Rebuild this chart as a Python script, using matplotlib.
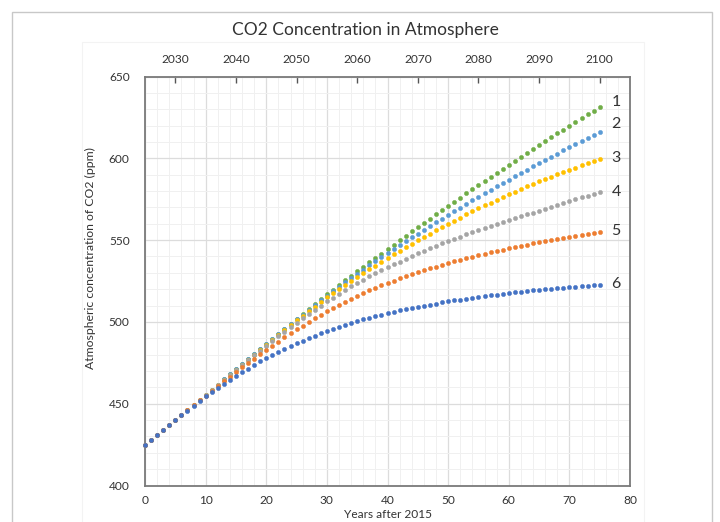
import matplotlib
matplotlib.use("Agg")
import matplotlib.pyplot as plt
from matplotlib.patches import Rectangle
from matplotlib.ticker import MultipleLocator

plt.rcParams['font.family'] = ['Lato', 'DejaVu Sans']

years_after = list(range(0, 76))

s1 = [425, 428, 431, 434, 437, 440,
      443.1, 446.2, 449.3, 452.4, 455.5, 458.6, 461.7, 464.8, 467.9, 471.0,
      474.1, 477.2, 480.3, 483.4, 486.5, 489.6, 492.7, 495.8, 498.9, 502.0,
      505.0, 508.0, 511.0, 514.0, 517.0, 519.8, 522.6, 525.4, 528.2, 531.0,
      533.7, 536.4, 539.1, 541.8, 544.5, 547.2, 549.9, 552.6, 555.3, 558.0,
      560.6, 563.2, 565.8, 568.4, 571.0, 573.5, 576.0, 578.5, 581.0, 583.5,
      586.0, 588.5, 591.0, 593.5, 596.0, 598.4, 600.8, 603.2, 605.6, 608.0,
      610.4, 612.8, 615.2, 617.6, 620.0, 622.3, 624.6, 626.9, 629.2, 631.5]

s2 = [425, 428, 431, 434, 437, 440,
      443.1, 446.2, 449.3, 452.4, 455.5, 458.6, 461.7, 464.8, 467.9, 471.0,
      474.1, 477.1, 480.2, 483.2, 486.3, 489.3, 492.4, 495.4, 498.5, 501.5,
      504.4, 507.3, 510.2, 513.1, 516.0, 518.7, 521.4, 524.1, 526.8, 529.5,
      532.0, 534.5, 537.0, 539.5, 542.0, 544.4, 546.8, 549.2, 551.6, 554.0,
      556.3, 558.6, 560.9, 563.2, 565.5, 567.7, 569.9, 572.1, 574.3, 576.5,
      578.6, 580.7, 582.8, 584.9, 587.0, 589.0, 591.0, 593.0, 595.0, 597.0,
      598.9, 600.9, 602.8, 604.8, 606.7, 608.6, 610.4, 612.3, 614.1, 616.0]

s3 = [425, 428, 431, 434, 437, 440,
      443.1, 446.2, 449.2, 452.3, 455.4, 458.5, 461.6, 464.6, 467.7, 470.8,
      473.8, 476.9, 479.9, 483.0, 486.0, 489.0, 492.0, 495.0, 498.0, 501.0,
      503.8, 506.6, 509.4, 512.2, 515.0, 517.5, 520.0, 522.5, 525.0, 527.5,
      529.8, 532.1, 534.4, 536.7, 539.0, 541.2, 543.4, 545.6, 547.8, 550.0,
      552.0, 554.0, 556.0, 558.0, 560.0, 561.9, 563.8, 565.7, 567.6, 569.5,
      571.2, 572.9, 574.6, 576.3, 578.0, 579.6, 581.2, 582.8, 584.4, 586.0,
      587.4, 588.8, 590.2, 591.6, 593.0, 594.3, 595.6, 596.9, 598.2, 599.5]

s4 = [425, 428, 431, 434, 437, 440,
      443.1, 446.1, 449.2, 452.2, 455.3, 458.3, 461.4, 464.4, 467.5, 470.5,
      473.5, 476.5, 479.5, 482.5, 485.5, 488.3, 491.1, 493.9, 496.7, 499.5,
      502.1, 504.7, 507.3, 509.9, 512.5, 514.8, 517.1, 519.4, 521.7, 524.0,
      525.9, 527.8, 529.7, 531.6, 533.5, 535.2, 536.9, 538.6, 540.3, 542.0,
      543.5, 545.0, 546.5, 548.0, 549.5, 550.9, 552.2, 553.6, 554.9, 556.3,
      557.5, 558.7, 559.8, 561.0, 562.2, 563.4, 564.5, 565.7, 566.8, 568.0,
      569.2, 570.3, 571.5, 572.6, 573.8, 574.9, 576.1, 577.2, 578.4, 579.5]

s5 = [425, 428, 431, 434, 437, 440,
      443.0, 446.0, 449.0, 452.0, 455.0, 457.9, 460.8, 463.7, 466.6, 469.5,
      472.2, 474.9, 477.6, 480.3, 483.0, 485.5, 488.0, 490.5, 493.0, 495.5,
      497.7, 499.9, 502.1, 504.3, 506.5, 508.4, 510.3, 512.2, 514.1, 516.0,
      517.6, 519.2, 520.8, 522.4, 524.0, 525.3, 526.6, 527.9, 529.2, 530.5,
      531.6, 532.7, 533.8, 534.9, 536.0, 537.0, 537.9, 538.9, 539.8, 540.8,
      541.6, 542.5, 543.3, 544.2, 545.0, 545.8, 546.5, 547.3, 548.0, 548.8,
      549.5, 550.1, 550.8, 551.4, 552.1, 552.7, 553.3, 553.8, 554.4, 555.0]

s6 = [425, 428, 431, 434, 437, 440,
      442.9, 445.8, 448.7, 451.6, 454.5, 457.0, 459.5, 462.0, 464.5, 467.0,
      469.2, 471.4, 473.6, 475.8, 478.0, 479.8, 481.6, 483.4, 485.2, 487.0,
      488.5, 490.0, 491.5, 493.0, 494.5, 495.7, 496.9, 498.1, 499.3, 500.5,
      501.5, 502.5, 503.5, 504.5, 505.5, 506.3, 507.0, 507.8, 508.5, 509.3,
      509.9, 510.6, 511.2, 511.9, 512.5, 513.1, 513.6, 514.2, 514.7, 515.3,
      515.8, 516.2, 516.7, 517.1, 517.6, 518.0, 518.4, 518.8, 519.2, 519.6,
      519.9, 520.2, 520.6, 520.9, 521.2, 521.5, 521.8, 522.0, 522.3, 522.6]

series_names = ["1", "2", "3", "4", "5", "6"]
series_values = [s1, s2, s3, s4, s5, s6]
colors = ["#70AD47", "#5B9BD5", "#FFC000", "#A5A5A5", "#ED7D31", "#4472C4"]

bottom_ticks = [0, 10, 20, 30, 40, 50, 60, 70, 80]
y_ticks = [400, 450, 500, 550, 600, 650]
top_years = [2030, 2040, 2050, 2060, 2070, 2080, 2090, 2100]
top_offset = 2025

title = "CO2 Concentration in Atmosphere"
xlabel = "Years after 2015"
ylabel = "Atmospheric concentration of CO2 (ppm)"

W, H = 720, 522
fig = plt.figure(figsize=(W / 100, H / 100), dpi=100)
fig.patch.set_facecolor("white")

# outer frames
fig.patches.append(Rectangle((12 / W, -0.1), (712 - 12) / W, (1 - 12 / H) + 0.1,
                             transform=fig.transFigure, fill=False,
                             edgecolor="#C8C8C8", linewidth=1.0))
fig.patches.append(Rectangle((82 / W, -0.1), (644 - 82) / W, (1 - 42 / H) + 0.1,
                             transform=fig.transFigure, fill=False,
                             edgecolor="#F3F3F3", linewidth=0.8))

ax = fig.add_axes([145 / W, 1 - 485.5 / H, (630 - 145) / W, (485.5 - 76.5) / H])
ax.set_xlim(0, 80)
ax.set_ylim(400, 650)

ax.xaxis.set_minor_locator(MultipleLocator(2))
ax.yaxis.set_minor_locator(MultipleLocator(10))
ax.set_xticks(bottom_ticks)
ax.set_yticks(y_ticks)
ax.grid(which="major", color="#DCDCDC", linewidth=0.9)
ax.grid(which="minor", color="#F0F0F0", linewidth=0.7)
ax.set_axisbelow(True)

for name, vals, c in zip(series_names, series_values, colors):
    ax.plot(years_after, vals, linestyle="none", marker="o", markersize=3.1,
            markerfacecolor=c, markeredgecolor=c, markeredgewidth=0.3,
            clip_on=False, zorder=3)

label_dy = [3.0, 5.0, 0.8, 0.2, 0.6, 0.7]
for name, vals, dy in zip(series_names, series_values, label_dy):
    ax.text(77.7, vals[-1] + dy, name, ha="center", va="center",
            fontsize=11.5, color="#333333")

for sp in ax.spines.values():
    sp.set_color("#7A7A7A")
    sp.set_linewidth(1.3)

ax.tick_params(axis="both", which="both", length=0, colors="#333333",
               labelsize=8.6)
ax.tick_params(axis="x", pad=7)
ax.tick_params(axis="y", pad=11)

ax.set_xlabel(xlabel, fontsize=8.6, color="#333333", labelpad=2)
ax.set_ylabel(ylabel, fontsize=8.8, color="#333333")
ax.yaxis.set_label_coords(-0.101, 0.555)

sec = ax.secondary_xaxis("top", functions=(lambda x: x + top_offset,
                                           lambda y: y - top_offset))
sec.set_xticks(top_years)
sec.set_xticklabels([str(y) for y in top_years])
sec.tick_params(axis="x", direction="in", length=5, width=1.0,
                color="#555555", labelsize=8.6, labelcolor="#333333", pad=8)
sec.spines["top"].set_visible(False)

fig.text(365 / W, 1 - 30 / H, title, ha="center", va="center",
         fontsize=12.5, color="#333333")

fig.savefig("out.png", dpi=100)
